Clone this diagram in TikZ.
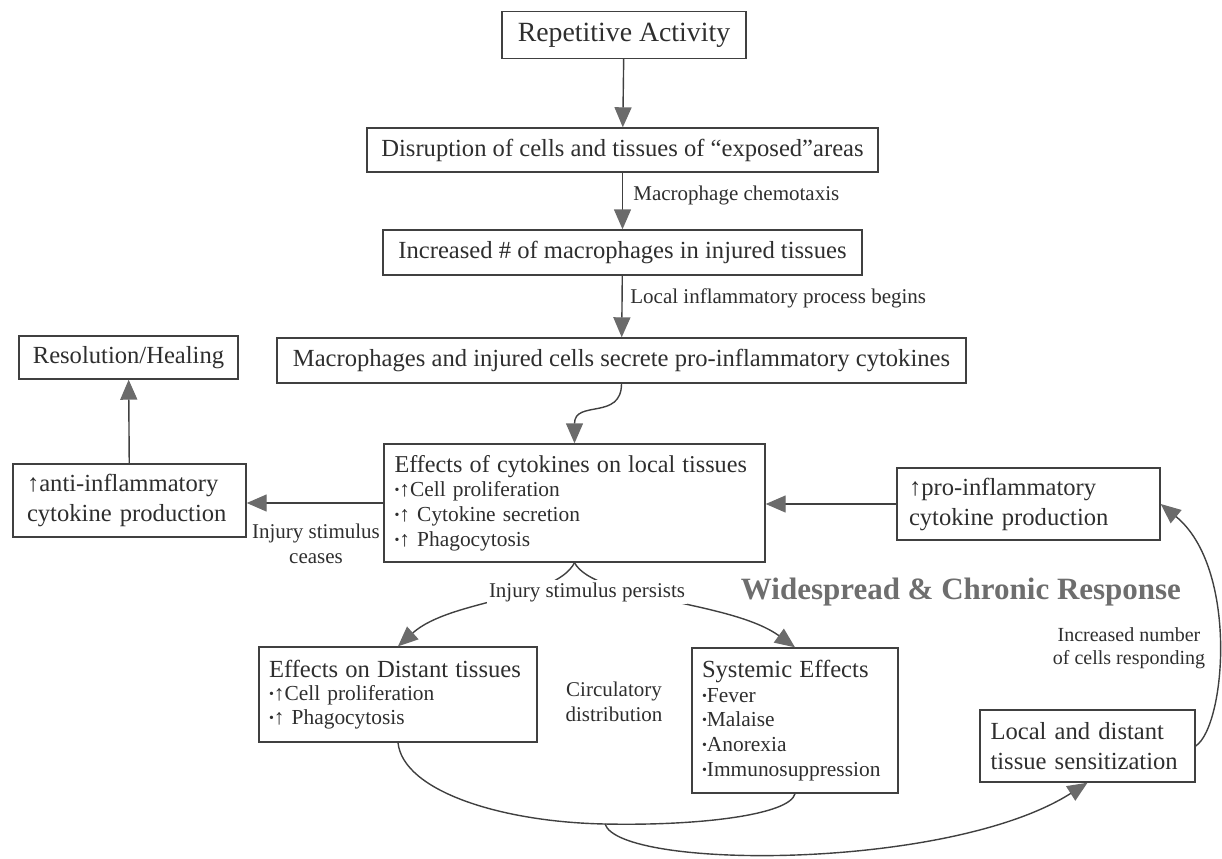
\documentclass[tikz,border=0pt]{standalone}
\usepackage{fontspec}
\setmainfont{Liberation Serif}
\usetikzlibrary{arrows.meta}
\newcommand{\boxfont}{\fontsize{12.3}{15}\selectfont}
\newcommand{\smallfont}{\fontsize{10.5}{12.5}\selectfont}
\newcommand{\itm}{\raisebox{1pt}{\fontsize{7}{7}\selectfont •}}

\begin{document}
\begin{tikzpicture}[x=0.5pt,y=-0.5pt,
  >={Triangle[length=10pt,width=8.5pt,color=black!58]},
  box/.style={draw=black!75,line width=0.7pt,inner sep=0pt,font=\boxfont,text=black!82},
  list/.style={box,align=left,inner ysep=3pt},
  lab/.style={font=\smallfont,text=black!82,align=center,inner sep=1pt},
  link/.style={->,draw=black!75,line width=0.7pt}]
\useasboundingbox (0,0) rectangle (1222,858);

% main chain
\node[box,minimum width=122pt,minimum height=23.5pt,font=\fontsize{13.9}{16}\selectfont] (act) at (624,35) {Repetitive Activity};
\node[box,minimum width=255.5pt,minimum height=22pt] (disr) at (622.5,150) {Disruption of cells and tissues of “exposed”areas};
\node[box,minimum width=239.5pt,minimum height=22.5pt] (incr) at (622.5,252.5) {Increased \# of macrophages in injured tissues};
\node[box,minimum width=344.5pt,minimum height=22.5pt] (secr) at (621.5,360.5) {Macrophages and injured cells secrete pro-inflammatory cytokines};
\node[list,text width=180pt,inner xsep=5.25pt,minimum height=59pt,font=\fontsize{10.7}{12.3}\selectfont] (eff) at (574.5,503)
  {\mbox{\fontsize{12.1}{15}\selectfont Effects of cytokines on local tissues}\\ \itm↑Cell proliferation\\ \itm↑ Cytokine secretion\\ \itm↑ Phagocytosis};

\draw[link] (act) -- (disr);
\draw[link] (disr) -- (incr);
\draw[link] (incr) -- (secr);
\draw[link] (secr.south) .. controls +(0,37) and +(0,-44) .. (eff.north);
\node[lab,anchor=west] (chemo) at (631,195) {Macrophage chemotaxis};
\node[lab,anchor=west] (begins) at (628,298) {Local inflammatory process begins};

% left side
\node[list,text width=102.5pt,inner xsep=7pt,minimum height=36.5pt] (anti) at (129.5,500.5) {↑anti-inflammatory\\cytokine production};
\node[box,minimum width=109.5pt,minimum height=21.5pt] (res) at (128.5,357.5) {Resolution/Healing};
\draw[link] (eff.west) -- (eff.west -| anti.east);
\draw[link] (anti) -- (res);
\node[lab] (ceases) at (316,544) {Injury stimulus\\ceases};

% right side
\node[list,text width=119.5pt,inner xsep=6pt,minimum height=36pt] (pro) at (1028.5,504) {↑pro-inflammatory\\cytokine production};
\node[list,text width=97pt,inner xsep=5.25pt,minimum height=36pt] (loc) at (1087.5,746) {Local and distant\\tissue sensitization};
\draw[link] (pro.west) -- (pro.west -| eff.east);
\draw[link] (loc.east) .. controls +(30,-20) and +(78,64) .. (pro.east);
\node[lab,font=\fontsize{10}{11.5}\selectfont] (cells) at (1129,648) {Increased number\\of cells responding};
\node[font=\bfseries\fontsize{15.5}{18}\selectfont,text=black!57] (chronic) at (961,592) {Widespread \& Chronic Response};

% lower branch
\node[list,text width=129pt,inner xsep=5pt,minimum height=47.5pt,font=\fontsize{10.7}{11.8}\selectfont] (dist) at (398,694.5)
  {\mbox{\boxfont Effects on Distant tissues}\\ \itm↑Cell proliferation\\ \itm↑ Phagocytosis};
\node[list,text width=93pt,inner xsep=5pt,minimum height=72.5pt,font=\fontsize{10.7}{12.3}\selectfont] (sys) at (795,720.5)
  {{\boxfont Systemic Effects}\\ \itm Fever\\ \itm Malaise\\ \itm Anorexia\\ \itm Immunosuppression};
\draw[link] (eff.south) .. controls +(-19,37) and +(52,-47) .. (dist.north);
\draw[link] (eff.south) .. controls +(20,37) and +(-65,-47) .. (sys.north);
\node[lab,fill=white] (persists) at (587,592) {Injury stimulus persists};
\node[lab] (circ) at (614,702) {Circulatory\\distribution};

\coordinate (join) at (605,824);
\draw[draw=black!75,line width=0.7pt] (dist.south) .. controls +(5,48) and +(-105,-2) .. (join)
  .. controls +(95,2) and +(-5,21) .. (sys.south);
\draw[link] (join) .. controls +(15,46) and +(-138,88) .. (loc.south);
\end{tikzpicture}
\end{document}
